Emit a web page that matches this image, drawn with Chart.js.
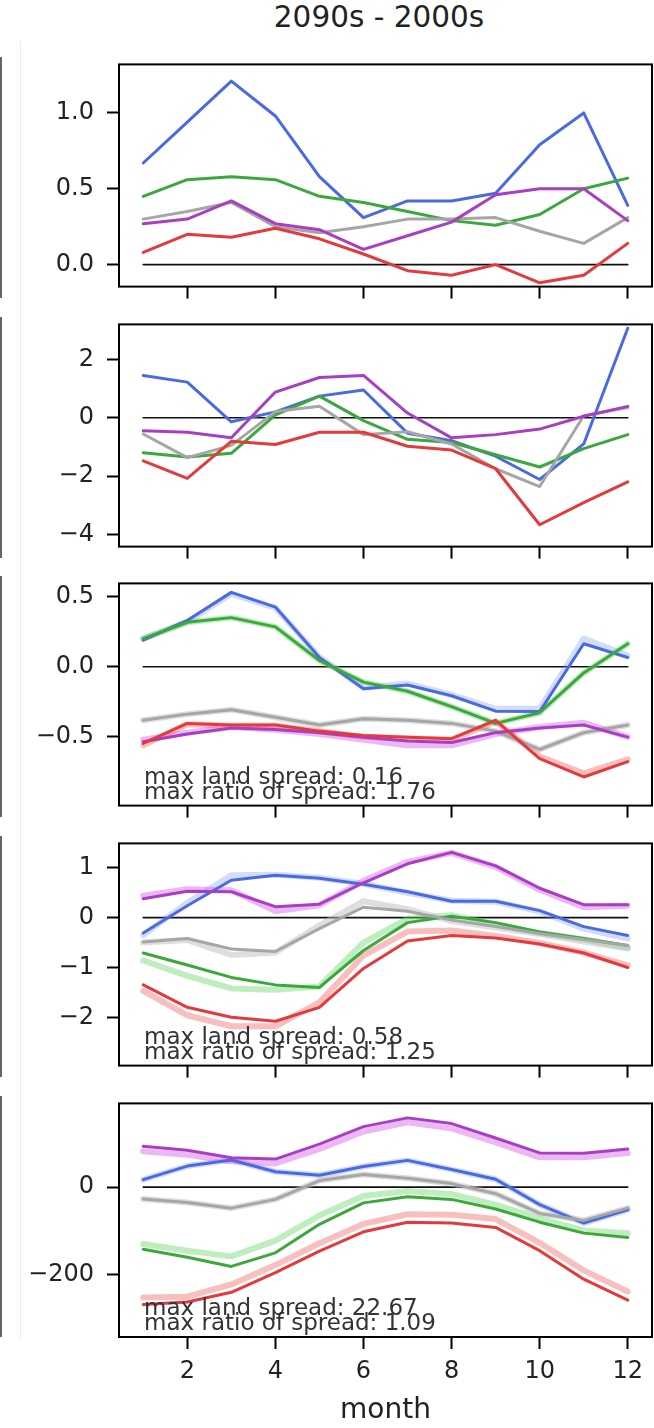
<!DOCTYPE html>
<html>
<head>
<meta charset="utf-8">
<script src="https://cdn.jsdelivr.net/npm/chart.js@4.4.1/dist/chart.umd.min.js"></script>
<style>
  html, body { margin: 0; padding: 0; background: #fff; }
  #wrap { position: relative; width: 654px; height: 1428px; overflow: hidden; font-family: 'DejaVu Sans', sans-serif; }
  #wrap canvas { position: absolute; left: 0; }
  #title { position: absolute; left: 119px; width: 520px; top: 0; text-align: center; font-size: 29.5px; color: #222; }
  .edge { position: absolute; left: 0; width: 2px; background: #666; }
  #faint { position: absolute; left: 20px; top: 42px; width: 1px; height: 1298px; background: #ececec; }
</style>
</head>
<body>
<div id="wrap">
  <div id="title">2090s - 2000s</div>
  <div id="faint"></div>
</div>
<script>
const months = [1, 2, 3, 4, 5, 6, 7, 8, 9, 10, 11, 12];
const xTicks = [2, 4, 6, 8, 10, 12];
const zeroX = [1, 12];
const zeroY = [0, 0];

// panel 1
const blue1   = [0.67, 0.94, 1.21, 0.98, 0.58, 0.31, 0.42, 0.42, 0.47, 0.79, 1.0, 0.39];
const green1  = [0.45, 0.56, 0.58, 0.56, 0.45, 0.41, 0.35, 0.29, 0.26, 0.33, 0.5, 0.57];
const purple1 = [0.27, 0.3, 0.42, 0.27, 0.23, 0.1, 0.19, 0.28, 0.46, 0.5, 0.5, 0.29];
const gray1   = [0.3, 0.35, 0.41, 0.25, 0.21, 0.25, 0.3, 0.3, 0.31, 0.22, 0.14, 0.31];
const red1    = [0.08, 0.2, 0.18, 0.24, 0.17, 0.07, -0.04, -0.07, 0.0, -0.12, -0.07, 0.14];
const yTicks1 = [0, 0.5, 1.0];

// panel 2
const blue2   = [1.45, 1.22, -0.14, 0.2, 0.74, 0.95, -0.53, -0.79, -1.32, -2.12, -0.9, 3.07];
const green2  = [-1.2, -1.35, -1.22, 0.1, 0.74, -0.1, -0.74, -0.85, -1.27, -1.69, -1.06, -0.58];
const purple2 = [-0.45, -0.5, -0.69, 0.88, 1.38, 1.45, 0.16, -0.69, -0.58, -0.39, 0.05, 0.39];
const gray2   = [-0.56, -1.37, -0.95, 0.21, 0.39, -0.58, -0.48, -0.9, -1.75, -2.36, 0.07, 0.35];
const red2    = [-1.48, -2.08, -0.81, -0.92, -0.5, -0.5, -0.98, -1.11, -1.75, -3.67, -2.91, -2.2];
const yTicks2 = [-4, -2, 0, 2];

// panel 3
const blue3    = [0.19, 0.33, 0.53, 0.425, 0.066, -0.157, -0.13, -0.207, -0.317, -0.32, 0.164, 0.066];
const blue3e   = [0.2, 0.32, 0.52, 0.42, 0.07, -0.15, -0.12, -0.2, -0.3, -0.3, 0.2, 0.08];
const green3   = [0.2, 0.317, 0.35, 0.284, 0.044, -0.11, -0.175, -0.284, -0.404, -0.328, -0.044, 0.164];
const purple3  = [-0.535, -0.48, -0.437, -0.448, -0.47, -0.502, -0.53, -0.54, -0.47, -0.437, -0.415, -0.502];
const purple3e = [-0.52, -0.47, -0.43, -0.45, -0.48, -0.52, -0.56, -0.56, -0.48, -0.43, -0.4, -0.5];
const gray3    = [-0.382, -0.338, -0.306, -0.36, -0.415, -0.371, -0.382, -0.404, -0.459, -0.59, -0.47, -0.415];
const red3     = [-0.546, -0.404, -0.415, -0.415, -0.459, -0.49, -0.502, -0.513, -0.382, -0.655, -0.786, -0.677];
const red3e    = [-0.56, -0.41, -0.42, -0.42, -0.46, -0.5, -0.51, -0.52, -0.39, -0.64, -0.76, -0.66];
const yTicks3  = [-0.5, 0, 0.5];
const notes3   = ['max land spread: 0.16', 'max ratio of spread: 1.76'];

// panel 4
const blue4    = [-0.31, 0.24, 0.75, 0.85, 0.79, 0.67, 0.52, 0.33, 0.33, 0.14, -0.18, -0.36];
const blue4e   = [-0.35, 0.3, 0.85, 0.86, 0.8, 0.68, 0.5, 0.34, 0.32, 0.12, -0.22, -0.42];
const green4   = [-0.71, -0.95, -1.2, -1.35, -1.4, -0.66, -0.1, 0.03, -0.1, -0.29, -0.42, -0.56];
const green4e  = [-0.86, -1.17, -1.42, -1.45, -1.38, -0.5, -0.02, 0.05, -0.13, -0.31, -0.44, -0.6];
const purple4  = [0.38, 0.53, 0.52, 0.22, 0.27, 0.7, 1.08, 1.31, 1.04, 0.59, 0.26, 0.26];
const purple4e = [0.44, 0.57, 0.55, 0.13, 0.25, 0.74, 1.12, 1.3, 1.02, 0.56, 0.21, 0.24];
const gray4    = [-0.49, -0.42, -0.63, -0.68, -0.22, 0.21, 0.13, -0.05, -0.18, -0.32, -0.44, -0.56];
const gray4e   = [-0.5, -0.45, -0.75, -0.7, -0.16, 0.33, 0.17, -0.07, -0.2, -0.33, -0.48, -0.62];
const red4     = [-1.35, -1.8, -2.0, -2.08, -1.8, -1.02, -0.47, -0.36, -0.41, -0.53, -0.71, -1.0];
const red4e    = [-1.47, -1.96, -2.18, -2.18, -1.7, -0.76, -0.28, -0.26, -0.37, -0.51, -0.7, -0.96];
const yTicks4  = [-2, -1, 0, 1];
const notes4   = ['max land spread: 0.58', 'max ratio of spread: 1.25'];

// panel 5
const blue5    = [17, 48, 62, 35, 27, 47, 61, 40, 18, -40, -82, -52];
const green5   = [-142, -160, -181, -150, -85, -36, -22, -28, -50, -80, -105, -115];
const green5e  = [-130, -145, -158, -122, -65, -20, -9, -16, -40, -72, -99, -105];
const purple5  = [93, 84, 67, 64, 98, 138, 158, 145, 112, 78, 77, 87];
const purple5e = [82, 74, 59, 54, 87, 127, 148, 134, 102, 68, 68, 78];
const gray5    = [-27, -35, -48, -28, 15, 29, 20, 8, -15, -60, -76, -48];
const red5     = [-268, -262, -240, -195, -146, -102, -80, -82, -92, -145, -210, -258];
const red5e    = [-252, -250, -222, -178, -128, -84, -62, -63, -73, -127, -190, -238];
const yTicks5  = [-200, 0];
const notes5   = ['max land spread: 22.67', 'max ratio of spread: 1.09'];

const COLORS = { blue: '#4a6ae4', green: '#3ca83c', purple: '#a83fc2', gray: '#a6a6a6', red: '#e43a3c' };
const LIGHT = {
  blue: 'rgba(110,140,240,0.3)',
  green: 'rgba(110,215,110,0.45)',
  purple: 'rgba(220,110,236,0.5)',
  gray: 'rgba(190,190,190,0.5)',
  red: 'rgba(242,112,112,0.45)'
};
const ORDER = { red: 1, purple: 2, gray: 3, green: 4, blue: 5 };
const FONT = "'DejaVu Sans', sans-serif";

const panels = [
  { series: { blue: blue1, green: green1, purple: purple1, gray: gray1, red: red1 }, ens: null,
    ticks: yTicks1, min: -0.145, max: 1.32, dec: 1, notes: null },
  { series: { blue: blue2, green: green2, purple: purple2, gray: gray2, red: red2 }, ens: null,
    ticks: yTicks2, min: -4.42, max: 3.2, dec: 0, notes: null },
  { series: { blue: blue3, green: green3, purple: purple3, gray: gray3, red: red3 },
    ens: { blue: blue3e, purple: purple3e, red: red3e },
    ticks: yTicks3, min: -0.99, max: 0.594, dec: 1, notes: notes3 },
  { series: { blue: blue4, green: green4, purple: purple4, gray: gray4, red: red4 },
    ens: { blue: blue4e, green: green4e, purple: purple4e, gray: gray4e, red: red4e },
    ticks: yTicks4, min: -2.97, max: 1.49, dec: 0, notes: notes4 },
  { series: { blue: blue5, green: green5, purple: purple5, gray: gray5, red: red5 },
    ens: { green: green5e, purple: purple5e, red: red5e },
    ticks: yTicks5, min: -342, max: 191, dec: 0, notes: notes5 }
];

const tops = [57, 317, 576, 836, 1096];
const boxH = 241;
const padTop = 20;

const pts = (xs, ys) => xs.map((x, i) => ({ x, y: ys[i] }));
const fmt = (v, dec) => v.toFixed(dec).replace('-', '\u2212');

const boxPlugin = {
  id: 'box',
  afterDraw(chart) {
    const { ctx, chartArea: a } = chart;
    ctx.save();
    ctx.strokeStyle = '#000';
    ctx.lineWidth = 2;
    ctx.strokeRect(a.left, a.top, a.right - a.left, a.bottom - a.top);
    ctx.restore();
  }
};

function notesPlugin(lines) {
  return {
    id: 'notes',
    afterDatasetsDraw(chart) {
      if (!lines) return;
      const { ctx, chartArea: a } = chart;
      ctx.save();
      ctx.font = '23px ' + FONT;
      ctx.fillStyle = '#333';
      ctx.fillText(lines[0], a.left + 25, a.bottom - 22);
      ctx.fillText(lines[1], a.left + 25, a.bottom - 7);
      ctx.restore();
    }
  };
}

const wrap = document.getElementById('wrap');

panels.forEach((p, idx) => {
  const last = idx === panels.length - 1;
  const xh = last ? 1428 - (tops[idx] + boxH) : 16;
  const h = padTop + boxH + xh;

  const edge = document.createElement('div');
  edge.className = 'edge';
  edge.style.top = tops[idx] + 'px';
  edge.style.height = boxH + 'px';
  wrap.appendChild(edge);

  const cv = document.createElement('canvas');
  cv.width = 654; cv.height = h;
  cv.style.width = '654px'; cv.style.height = h + 'px';
  cv.style.top = (tops[idx] - padTop) + 'px';
  wrap.appendChild(cv);

  const datasets = [{
    data: pts(zeroX, zeroY), borderColor: '#111', borderWidth: 1.6, order: 100
  }];
  Object.keys(p.series).forEach(k => {
    if (p.ens) {
      datasets.push({
        data: pts(months, p.ens[k] || p.series[k]),
        borderColor: LIGHT[k], borderWidth: 6, order: 50 + ORDER[k]
      });
    }
    datasets.push({
      data: pts(months, p.series[k]),
      borderColor: COLORS[k], borderWidth: 3, order: ORDER[k]
    });
  });

  new Chart(cv, {
    type: 'line',
    data: { datasets },
    options: {
      responsive: false,
      animation: false,
      events: [],
      layout: { padding: { left: 0, right: 2, top: padTop, bottom: 0 } },
      elements: {
        point: { radius: 0 },
        line: { tension: 0, borderJoinStyle: 'round', borderCapStyle: 'round', fill: false }
      },
      plugins: { legend: { display: false }, tooltip: { enabled: false } },
      scales: {
        x: {
          type: 'linear', min: 0.45, max: 12.55,
          afterBuildTicks: s => { s.ticks = xTicks.map(v => ({ value: v })); },
          afterFit: s => { s.height = xh; },
          grid: { drawOnChartArea: false, drawTicks: true, tickLength: 12, tickColor: '#000', tickWidth: 2 },
          border: { display: false },
          ticks: { display: last, color: '#222', padding: 8, maxRotation: 0, font: { family: FONT, size: 24 } },
          title: { display: last, text: 'month', color: '#222', padding: 0, font: { family: FONT, size: 28 } }
        },
        y: {
          min: p.min, max: p.max,
          afterBuildTicks: s => { s.ticks = p.ticks.map(v => ({ value: v })); },
          afterFit: s => { s.width = 119; },
          grid: { drawOnChartArea: false, drawTicks: true, tickLength: 12, tickColor: '#000', tickWidth: 2 },
          border: { display: false },
          ticks: { color: '#222', padding: 13, font: { family: FONT, size: 24 }, callback: v => fmt(v, p.dec) }
        }
      }
    },
    plugins: [boxPlugin, notesPlugin(p.notes)]
  });
});
</script>
</body>
</html>
